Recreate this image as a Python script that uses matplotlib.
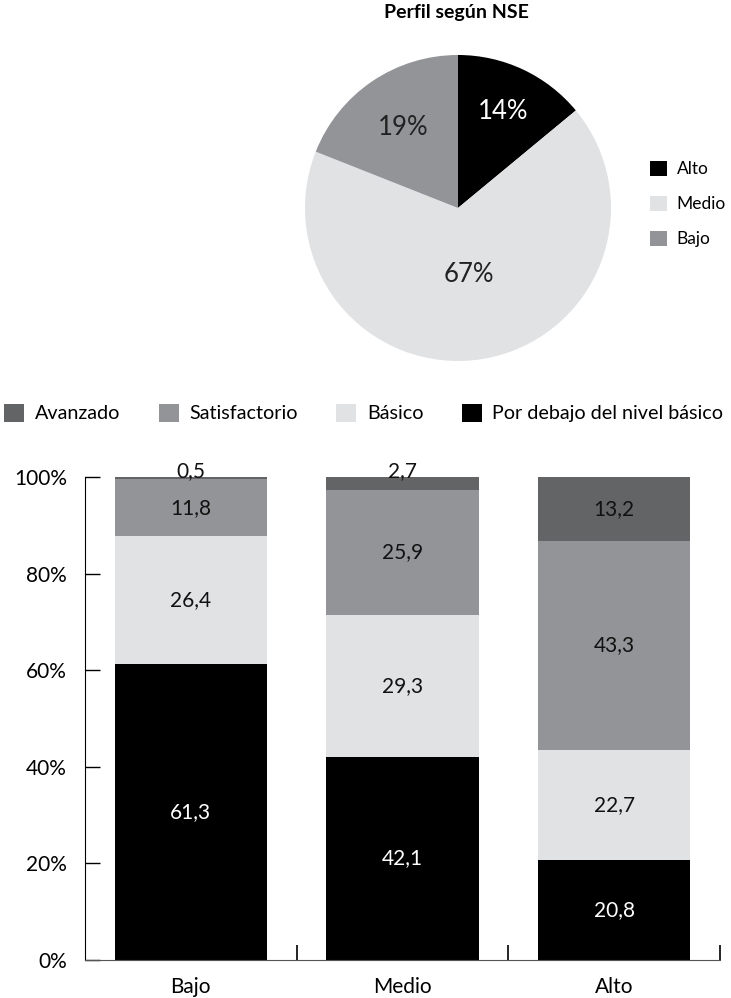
import matplotlib.pyplot as plt
import numpy as np

plt.rcParams['font.family'] = ['Lato', 'DejaVu Sans']

# pie data
nse = ['Alto', 'Medio', 'Bajo']
nse_pct = [14, 67, 19]
nse_colors = ['#000000', '#e1e2e4', '#939498']
pct_dist = [0.70, 0.44, 0.635]

# stacked bars
groups = ['Bajo', 'Medio', 'Alto']
por_debajo = [61.3, 42.1, 20.8]
basico = [26.4, 29.3, 22.7]
satisf = [11.8, 25.9, 43.3]
avanzado = [0.5, 2.7, 13.2]
niveles = ['Avanzado', 'Satisfactorio', 'Básico', 'Por debajo del nivel básico']
nivel_colors = ['#636466', '#939498', '#e1e2e4', '#000000']


def fmt(v):
    return ('%.1f' % v).replace('.', ',')


fig = plt.figure(figsize=(7.31, 9.98), dpi=100)

# ---- pie ----
ax1 = fig.add_axes([0.4172, 0.6383, 0.4186, 0.3066])
wedges, _ = ax1.pie(nse_pct, colors=nse_colors, startangle=90, counterclock=False)
ax1.set_xlim(-1, 1)
ax1.set_ylim(-1, 1)
ax1.set_aspect('equal')
for w, p, d, c in zip(wedges, nse_pct, pct_dist, nse_colors):
    ang = np.deg2rad((w.theta1 + w.theta2) / 2)
    tc = 'white' if c == '#000000' else '#222222'
    ax1.text(d * np.cos(ang), d * np.sin(ang), '%d%%' % p, ha='center', va='center',
             fontsize=18.5, color=tc)
fig.text(0.625, 0.9875, 'Perfil según NSE', ha='center', va='center',
         fontsize=14, fontweight='bold')
fig.legend(wedges, nse, loc='upper left', bbox_to_anchor=(0.889, 0.839),
           frameon=False, fontsize=12.5, handlelength=1.0, handleheight=1.0,
           handletextpad=0.55, labelspacing=1.05, borderpad=0, borderaxespad=0)

# ---- bars ----
ax2 = fig.add_axes([0.1163, 0.0381, 0.8687, 0.4840])
x = np.arange(len(groups))
series = [por_debajo, basico, satisf, avanzado]
cols = ['#000000', '#e1e2e4', '#939498', '#636466']
bottom = np.zeros(len(groups))
handles = {}
for vals, col, name in zip(series, cols, niveles[::-1]):
    bars = ax2.bar(x, vals, 0.72, bottom=bottom, color=col, zorder=2)
    handles[name] = bars
    for i, v in enumerate(vals):
        tc = 'white' if col == '#000000' else '#111111'
        if v < 5:
            ax2.text(x[i], bottom[i] + v + 1.3, fmt(v), ha='center', va='center',
                     fontsize=15, color=tc)
        else:
            ax2.text(x[i], bottom[i] + v / 2, fmt(v), ha='center', va='center',
                     fontsize=15, color=tc)
    bottom += np.array(vals)

ax2.set_xlim(-0.5, 2.5)
ax2.set_ylim(0, 100)
ax2.set_yticks([0, 20, 40, 60, 80, 100])
ax2.set_yticklabels(['0%', '20%', '40%', '60%', '80%', '100%'])
ax2.set_xticks(x)
ax2.set_xticklabels(groups)
ax2.set_xticks([0.5, 1.5, 2.5], minor=True)
ax2.tick_params(axis='y', direction='in', length=11, width=1, labelsize=15, pad=13)
ax2.tick_params(axis='x', which='major', length=0, labelsize=15, pad=12)
ax2.tick_params(axis='x', which='minor', direction='in', length=11, width=1.2)
for s in ['top', 'right']:
    ax2.spines[s].set_visible(False)
ax2.spines['bottom'].set_color('#555555')
ax2.spines['bottom'].set_zorder(3)

fig.legend([handles[n] for n in niveles], niveles, loc='center left',
           bbox_to_anchor=(0.006, 0.586), ncol=4, frameon=False, fontsize=14.2,
           handlelength=1.0, handleheight=1.0, handletextpad=0.55,
           columnspacing=1.95, borderpad=0, borderaxespad=0)

fig.savefig('out.png', dpi=100)
